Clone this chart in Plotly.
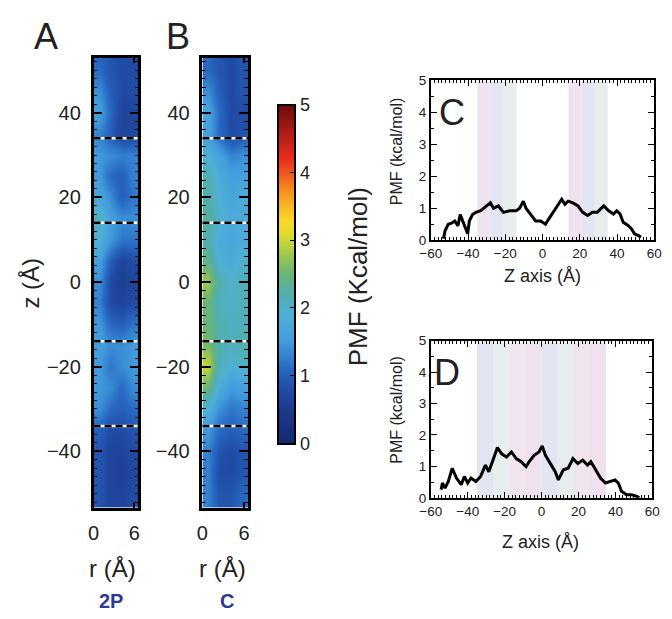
import plotly.graph_objects as go

# ---------------- data ----------------
r_centers = [0.8, 2.5, 4.1, 5.8]
z_centers = [-50, -45, -40, -35, -30, -25, -20, -15, -10, -5, 0,
             5, 10, 15, 20, 25, 30, 35, 40, 45, 50]

# PMF map, panel A (2P); rows follow z_centers (bottom -> top), columns r_centers
pmf_2p = [
    [0.9, 0.7, 0.7, 0.8],
    [0.9, 0.7, 0.6, 0.7],
    [0.9, 0.7, 0.7, 0.8],
    [1.0, 0.8, 0.8, 0.9],
    [1.4, 1.1, 1.0, 1.1],
    [1.5, 1.4, 1.1, 1.4],
    [1.5, 1.2, 1.4, 1.5],
    [1.6, 1.4, 1.4, 1.5],
    [1.5, 1.1, 1.0, 1.2],
    [1.3, 0.8, 0.7, 0.8],
    [1.4, 0.8, 0.6, 0.7],
    [1.6, 1.0, 0.7, 0.8],
    [1.9, 1.5, 1.2, 1.2],
    [2.1, 1.6, 1.4, 1.4],
    [1.7, 1.4, 1.0, 1.2],
    [1.5, 1.1, 1.0, 1.3],
    [1.5, 1.4, 1.3, 1.3],
    [1.3, 1.0, 0.7, 0.7],
    [1.6, 1.1, 0.7, 0.7],
    [1.4, 1.0, 0.8, 0.8],
    [1.1, 0.9, 0.8, 0.8],
]

# PMF map, panel B (C)
pmf_c = [
    [1.3, 0.9, 0.9, 1.1],
    [1.3, 0.8, 0.8, 0.9],
    [1.3, 0.9, 0.8, 0.9],
    [1.5, 1.1, 1.0, 1.1],
    [1.9, 1.4, 1.2, 1.3],
    [2.5, 1.8, 1.5, 1.6],
    [3.0, 2.1, 1.9, 2.0],
    [2.6, 2.2, 2.1, 2.2],
    [2.5, 2.2, 2.1, 2.1],
    [2.5, 2.1, 2.0, 2.1],
    [2.8, 2.2, 2.0, 2.1],
    [2.4, 1.9, 1.8, 2.0],
    [2.2, 1.8, 1.7, 1.8],
    [2.3, 2.0, 1.8, 1.8],
    [2.2, 1.9, 1.7, 1.8],
    [2.2, 1.8, 1.6, 1.6],
    [1.9, 1.6, 1.3, 1.4],
    [1.6, 1.1, 0.8, 0.9],
    [1.7, 1.1, 0.8, 0.8],
    [1.4, 1.0, 0.8, 0.9],
    [1.1, 0.9, 0.8, 0.9],
]

# 1-D PMF profiles
zc = [-53.2, -52.3, -50.6, -48.9, -47.1, -45.4, -44.2, -42.8, -41.0, -40.2,
      -39.3, -37.6, -35.8, -33.2, -31.5, -28.0, -26.3, -23.7, -21.0, -17.6,
      -14.1, -12.3, -10.3, -8.9, -6.3, -3.7, -1.0, 1.6, 3.3, 5.0,
      7.7, 10.3, 12.0, 13.7, 16.3, 19.0, 21.6, 24.2, 26.8, 29.4,
      31.1, 32.9, 35.5, 38.1, 39.8, 41.6, 43.3, 45.9, 47.7, 49.4,
      51.2, 52.9]
pmf_line_c = [0.05, 0.3, 0.5, 0.53, 0.6, 0.45, 0.8, 0.6, 0.3, 0.2,
              0.6, 0.8, 0.87, 0.92, 1.0, 1.17, 1.0, 1.07, 0.87, 0.92,
              0.92, 1.0, 1.22, 1.0, 0.8, 0.6, 0.6, 0.5, 0.66, 0.82,
              1.07, 1.28, 1.12, 1.22, 1.17, 1.07, 0.87, 0.77, 0.87, 0.87,
              0.97, 1.07, 0.92, 0.82, 0.92, 0.82, 0.56, 0.46, 0.36, 0.2,
              0.15, 0.1]

zd = [-54.4, -53.7, -52.3, -50.5, -48.4, -46.1, -43.5, -41.8, -40.0, -38.2,
      -35.6, -33.0, -30.4, -28.6, -26.0, -23.9, -21.6, -19.0, -16.3, -13.7,
      -11.1, -8.4, -6.7, -4.0, -1.4, 0.35, 2.1, 4.7, 7.4, 9.1,
      11.8, 14.4, 17.0, 19.6, 22.3, 24.9, 26.7, 29.3, 31.9, 34.6,
      37.2, 39.8, 41.6, 43.3, 46.0, 48.6, 51.2, 53.0]
pmf_line_d = [0.26, 0.47, 0.31, 0.52, 0.94, 0.63, 0.42, 0.68, 0.47, 0.63,
              0.52, 0.68, 1.04, 0.83, 1.25, 1.6, 1.4, 1.3, 1.46, 1.25,
              1.15, 0.99, 1.15, 1.35, 1.46, 1.65, 1.35, 1.09, 0.83, 0.57,
              0.89, 0.94, 1.25, 1.09, 1.2, 1.04, 1.15, 0.89, 0.63, 0.47,
              0.52, 0.57, 0.47, 0.21, 0.1, 0.1, 0.05, 0.0]

pore_lines = [-34, -14, 14, 34]
c_regions = [(-35, -14), (14, 35)]
d_region = (-35, 35)

# ---------------- figure ----------------
W, H = 672, 619
def px(x): return x / W
def py(y): return 1 - y / H

FONT = "Liberation Sans, Arial, sans-serif"
TXT = "#222222"

R_MAX = 6.6
Z_MIN, Z_MAX = -53.3, 53.0
# cell edges for the maps (bricks), spanning the full axis ranges
r_edges = [0] + [(r_centers[i] + r_centers[i + 1]) / 2 for i in range(len(r_centers) - 1)] + [R_MAX]
z_edges = [Z_MIN] + [(z_centers[i] + z_centers[i + 1]) / 2 for i in range(len(z_centers) - 1)] + [Z_MAX]

jet = [
    [0.00, "rgb(20,40,110)"],
    [0.10, "rgb(28,58,140)"],
    [0.16, "rgb(32,75,165)"],
    [0.22, "rgb(40,105,195)"],
    [0.30, "rgb(65,155,220)"],
    [0.38, "rgb(80,175,215)"],
    [0.44, "rgb(80,175,175)"],
    [0.50, "rgb(105,180,120)"],
    [0.56, "rgb(160,200,75)"],
    [0.62, "rgb(225,220,45)"],
    [0.66, "rgb(248,215,40)"],
    [0.74, "rgb(245,150,30)"],
    [0.84, "rgb(235,45,30)"],
    [1.00, "rgb(110,10,10)"],
]

fig = go.Figure()

for i, z in enumerate([pmf_2p, pmf_c]):
    fig.add_trace(go.Heatmap(
        x=r_edges, y=z_edges, z=z, coloraxis="coloraxis",
        zsmooth="best", xaxis=f"x{i+1}", yaxis=f"y{i+1}",
        hoverinfo="skip"))

fig.add_trace(go.Scatter(x=zc, y=pmf_line_c, mode="lines",
                         line=dict(color="black", width=3),
                         xaxis="x3", yaxis="y3", showlegend=False))
fig.add_trace(go.Scatter(x=zd, y=pmf_line_d, mode="lines",
                         line=dict(color="black", width=3),
                         xaxis="x4", yaxis="y4", showlegend=False))

shapes = []
# dashed pore boundaries on the maps
for ax in ["", "2"]:
    for zl in pore_lines:
        shapes.append(dict(type="line", xref=f"x{ax}", yref=f"y{ax}",
                           x0=0, x1=R_MAX, y0=zl, y1=zl,
                           line=dict(color="white", width=2.5), layer="above"))
        shapes.append(dict(type="line", xref=f"x{ax}", yref=f"y{ax}",
                           x0=0, x1=R_MAX, y0=zl, y1=zl,
                           line=dict(color="black", width=2.5, dash="7px,4px"),
                           layer="above"))

# shaded regions in C and D
band_cols = ["rgba(228,205,225,0.6)", "rgba(208,212,235,0.6)",
             "rgba(215,225,225,0.6)", "rgba(230,210,228,0.6)"]
for a, b in c_regions:
    n = 3
    step = (b - a) / n
    for k in range(n):
        shapes.append(dict(type="rect", xref="x3", yref="y3",
                           x0=a + k * step, x1=a + (k + 1) * step, y0=0, y1=4.95,
                           fillcolor=band_cols[k % 4], line=dict(width=0),
                           layer="below"))
a, b = d_region
n = 8
step = (b - a) / n
for k in range(n):
    shapes.append(dict(type="rect", xref="x4", yref="y4",
                       x0=a + k * step, x1=a + (k + 1) * step, y0=0, y1=4.95,
                       fillcolor=band_cols[(k + 1) % 4], line=dict(width=0),
                       layer="below"))

fig.update_layout(shapes=shapes)

map_x = dict(range=[0, R_MAX], tickvals=[0, 6], ticks="inside", ticklen=6,
             tickwidth=1.5, tickcolor="black", showline=True, linewidth=2.5,
             linecolor="black", mirror="ticks", showgrid=False, zeroline=False,
             tickfont=dict(size=20, color=TXT, family=FONT), ticklabelstandoff=6)
map_y = dict(range=[Z_MIN, Z_MAX], tickvals=[-40, -20, 0, 20, 40], ticks="inside",
             ticklen=9, tickwidth=1.8, tickcolor="black", showline=True,
             linewidth=2.5, linecolor="black", mirror="ticks", showgrid=False,
             zeroline=False, minor=dict(dtick=2, ticks="inside", ticklen=4,
                                        tickcolor="black", tickwidth=1.2),
             tickfont=dict(size=20, color=TXT, family=FONT), ticklabelstandoff=6)

line_x = dict(range=[-60, 60], dtick=20, ticks="inside", ticklen=6,
              tickwidth=1.3, tickcolor="black", showline=True, linewidth=1.8,
              linecolor="black", mirror="ticks", showgrid=False, zeroline=False,
              minor=dict(dtick=2, ticks="inside", ticklen=3, tickcolor="black",
                         tickwidth=1),
              tickfont=dict(size=13.5, color=TXT, family=FONT))
line_y = dict(range=[0, 5], dtick=1, ticks="inside", ticklen=6, tickwidth=1.3,
              tickcolor="black", showline=True, linewidth=1.8, linecolor="black",
              mirror="ticks", showgrid=False, zeroline=False,
              minor=dict(dtick=0.5, ticks="inside", ticklen=3, tickcolor="black"),
              tickfont=dict(size=13.5, color=TXT, family=FONT))

fig.update_layout(
    width=W, height=H, margin=dict(l=0, r=0, t=0, b=0),
    paper_bgcolor="white", plot_bgcolor="white", showlegend=False,
    font=dict(family=FONT, color=TXT),
    xaxis=dict(map_x, domain=[px(85), px(131)], anchor="y"),
    yaxis=dict(map_y, domain=[py(513), py(52)], anchor="x"),
    xaxis2=dict(map_x, domain=[px(197), px(244)], anchor="y2"),
    yaxis2=dict(map_y, domain=[py(513), py(52)], anchor="x2"),
    xaxis3=dict(line_x, domain=[px(432), px(662)], anchor="y3"),
    yaxis3=dict(line_y, domain=[py(239), py(75)], anchor="x3"),
    xaxis4=dict(line_x, domain=[px(432), px(660)], anchor="y4"),
    yaxis4=dict(line_y, domain=[py(503), py(342)], anchor="x4"),
    coloraxis=dict(
        colorscale=jet, cmin=0, cmax=5,
        colorbar=dict(x=px(275), xanchor="left", y=py(100), yanchor="top",
                      len=(447 - 100) / H, lenmode="fraction", thickness=17,
                      outlinewidth=2, outlinecolor="black",
                      tickvals=[0, 1, 2, 3, 4, 5], ticks="inside", ticklen=6,
                      tickcolor="black", tickwidth=1.2,
                      tickfont=dict(size=18, color=TXT, family=FONT),
                      ypad=0, xpad=0)),
)

ann = []
def text(x, y, s, size, angle=0, color=TXT, bold=False, xanchor="center"):
    ann.append(dict(x=px(x), y=py(y), xref="paper", yref="paper", text=s,
                    showarrow=False, textangle=angle, xanchor=xanchor,
                    yanchor="middle",
                    font=dict(size=size, color=color, family=FONT,
                              weight="bold" if bold else "normal")))

text(36, 30, "A", 36)
text(172, 30, "B", 36)
text(20, 283, "z (Å)", 24, angle=-90)
text(104, 575, "r (Å)", 24)
text(218, 575, "r (Å)", 24)
text(103, 609, "2P", 20, color="#2b3a8f", bold=True)
text(222, 609, "C", 20, color="#2b3a8f", bold=True)
text(357, 276, "PMF (Kcal/mol)", 26, angle=-90)
text(397, 148, "PMF (kcal/mol)", 16, angle=-90)
text(397, 413, "PMF (kcal/mol)", 16, angle=-90)
text(547, 276, "Z axis (Å)", 18)
text(545, 548, "Z axis (Å)", 18)
text(454, 108, "C", 36)
text(449, 375, "D", 36)
fig.update_layout(annotations=ann)

fig.write_html("out.html")
